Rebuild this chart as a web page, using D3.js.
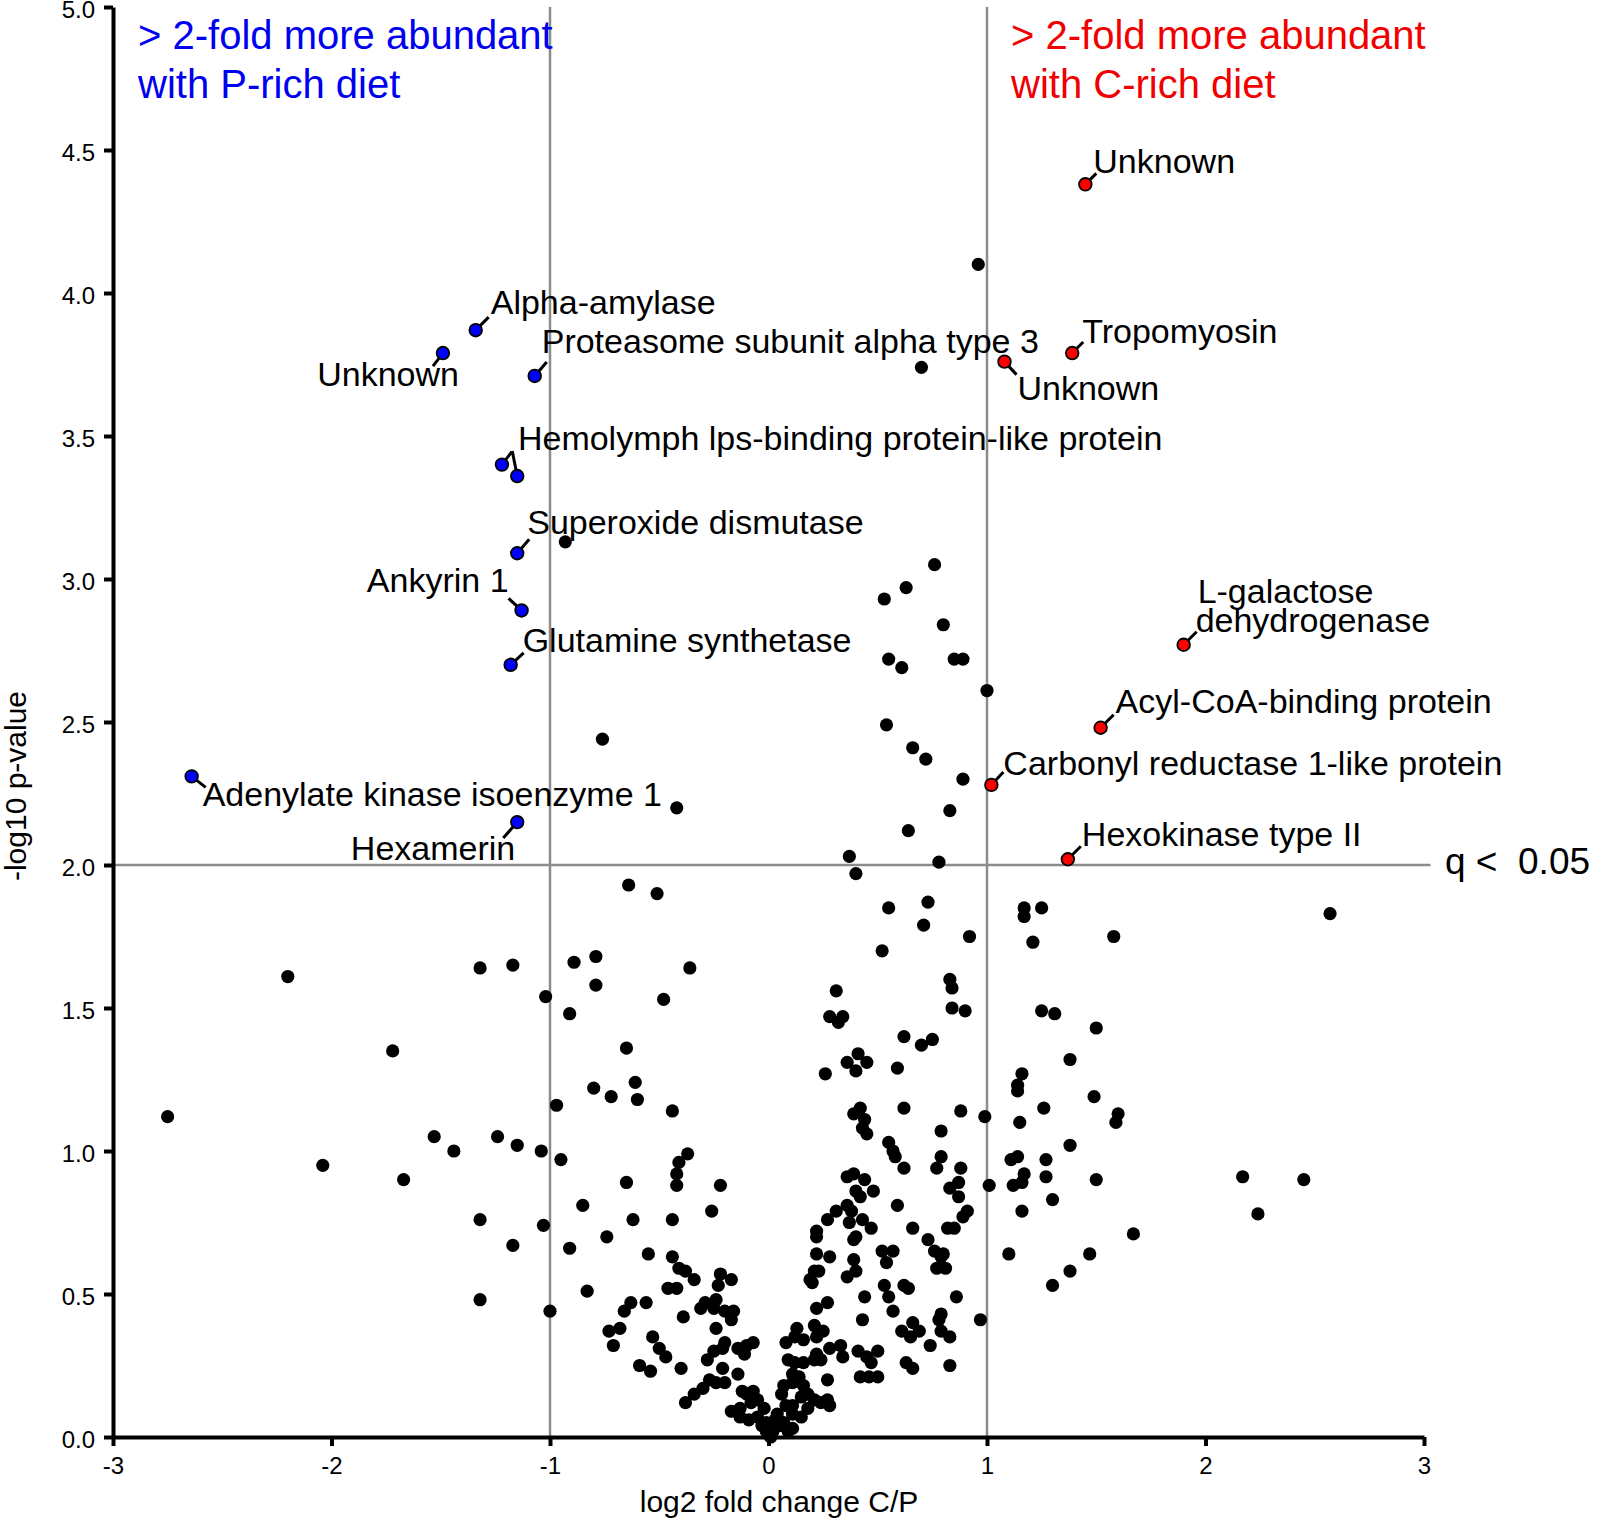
<!DOCTYPE html>
<html>
<head>
<meta charset="utf-8">
<script src="https://cdn.jsdelivr.net/npm/d3@7"></script>
<style>
  body { margin: 0; background: #fff; }
  svg { display: block; font-family: "Liberation Sans", Arial, sans-serif; }
</style>
</head>
<body>
<svg id="chart"></svg>
<script>
// axis ticks
const xTicks = [-3, -2, -1, 0, 1, 2, 3];
const yTicks = [0, 0.5, 1, 1.5, 2, 2.5, 3, 3.5, 4, 4.5, 5];

// thresholds: 2-fold change and q < 0.05
const foldCut = [-1, 1];
const qCut = 2;

// proteins more abundant with P-rich diet (blue)
const pRichNames = ["Alpha-amylase", "Unknown", "Proteasome subunit alpha type 3",
  "Hemolymph lps-binding protein-like protein", "", "Superoxide dismutase",
  "Ankyrin 1", "Glutamine synthetase", "Adenylate kinase isoenzyme 1", "Hexamerin"];
const pRichFold = [-1.34, -1.49, -1.07, -1.22, -1.15, -1.15, -1.13, -1.18, -2.64, -1.15];
const pRichP = [3.87, 3.79, 3.71, 3.40, 3.36, 3.09, 2.89, 2.70, 2.31, 2.15];

// proteins more abundant with C-rich diet (red)
const cRichNames = ["Unknown", "Tropomyosin", "Unknown", "L-galactose|dehydrogenase",
  "Acyl-CoA-binding protein", "Carbonyl reductase 1-like protein", "Hexokinase type II"];
const cRichFold = [1.45, 1.39, 1.08, 1.90, 1.52, 1.02, 1.37];
const cRichP = [4.38, 3.79, 3.76, 2.77, 2.48, 2.28, 2.02];

// all other proteins: [log2 fold change, -log10 p]
const otherProteins = [
  [0.96,4.10],[0.70,3.74],[-0.93,3.13],[0.76,3.05],[0.63,2.97],[0.53,2.93],[0.80,2.84],
  [0.85,2.72],[0.89,2.72],[0.55,2.72],[0.61,2.69],[1.00,2.61],[-0.76,2.44],[0.54,2.49],
  [0.66,2.41],[0.72,2.37],[0.89,2.30],[-0.42,2.20],[0.83,2.19],[0.64,2.12],[0.37,2.03],
  [0.78,2.01],[0.40,1.97],[-0.64,1.93],[-0.51,1.90],
  [-2.20,1.61],[-1.32,1.64],[-1.17,1.65],[-0.89,1.66],[-0.79,1.68],[-0.79,1.58],[-1.02,1.54],
  [-0.91,1.48],[-1.72,1.35],[-0.80,1.22],[-0.97,1.16],[-2.75,1.12],[-1.53,1.05],[-1.24,1.05],
  [-1.15,1.02],[-1.44,1.00],[-1.04,1.00],[-0.95,0.97],[-2.04,0.95],[-1.67,0.90],[-0.85,0.81],
  [-1.32,0.76],[-1.03,0.74],[-1.17,0.67],[-0.91,0.66],[-1.32,0.48],[-1.00,0.44],[-0.83,0.51],
  [0.55,1.85],[0.73,1.87],[0.71,1.79],[0.92,1.75],[0.52,1.70],[1.17,1.85],[1.17,1.82],
  [1.25,1.85],[1.21,1.73],[-0.36,1.64],[-0.48,1.53],[0.31,1.56],[0.28,1.47],[0.34,1.47],
  [0.32,1.45],[0.83,1.60],[0.84,1.57],[0.84,1.50],[0.90,1.49],[1.25,1.49],[1.31,1.48],
  [1.50,1.43],[0.62,1.40],[0.70,1.37],[0.75,1.39],[-0.65,1.36],[1.38,1.32],[0.41,1.34],
  [0.36,1.31],[0.45,1.31],[0.40,1.28],[0.26,1.27],[0.59,1.29],[1.16,1.27],[1.14,1.23],
  [1.14,1.21],[-0.61,1.24],[-0.72,1.19],[-0.60,1.18],[-0.44,1.14],[1.49,1.19],[0.42,1.15],
  [0.39,1.13],[0.44,1.11],[0.43,1.08],[0.45,1.06],[0.62,1.15],[0.88,1.14],[0.99,1.12],
  [1.26,1.15],[1.15,1.10],[0.79,1.07],[0.55,1.03],[0.57,1.00],[0.58,0.98],[0.62,0.94],
  [0.79,0.98],[0.77,0.94],[0.88,0.94],[1.38,1.02],[1.11,0.97],[1.14,0.98],[1.27,0.97],
  [1.27,0.91],[1.17,0.92],[1.16,0.89],[1.12,0.88],[1.01,0.88],[1.50,0.90],[1.30,0.83],
  [1.16,0.79],[-0.37,0.99],[-0.41,0.96],[-0.42,0.92],[-0.42,0.88],[-0.65,0.89],[-0.22,0.88],
  [-0.26,0.79],[-0.62,0.76],[-0.44,0.76],[-0.74,0.70],[0.39,0.92],[0.36,0.91],[0.44,0.90],
  [0.48,0.86],[0.40,0.86],[0.42,0.84],[0.87,0.89],[0.83,0.87],[0.87,0.84],[0.59,0.81],
  [0.36,0.81],[0.31,0.79],[0.38,0.79],[0.27,0.76],[0.37,0.75],[0.43,0.76],[0.47,0.73],
  [0.91,0.79],[0.89,0.77],[0.66,0.73],[0.82,0.73],[0.85,0.73],[0.22,0.72],[0.22,0.70],
  [0.40,0.70],[0.39,0.69],[0.73,0.69],
  [2.57,1.83],[1.58,1.75],[1.60,1.13],[1.59,1.10],[2.17,0.91],[2.45,0.90],[2.24,0.78],[1.67,0.71],
  [-0.55,0.64],[-0.44,0.63],[-0.41,0.59],[-0.38,0.58],[-0.34,0.55],[-0.46,0.52],[-0.42,0.52],
  [-0.56,0.47],[-0.63,0.47],[-0.66,0.44],[-0.68,0.38],[-0.73,0.37],[-0.71,0.32],[-0.53,0.35],
  [-0.50,0.31],[-0.47,0.28],[-0.59,0.25],[-0.54,0.23],[-0.40,0.24],[-0.39,0.42],[-0.22,0.57],
  [-0.17,0.55],[-0.23,0.53],[-0.24,0.48],[-0.29,0.47],[-0.31,0.45],[-0.25,0.45],[-0.20,0.44],
  [-0.16,0.44],[-0.17,0.41],[-0.24,0.38],[-0.20,0.33],[-0.25,0.30],[-0.28,0.27],[-0.21,0.31],
  [-0.14,0.31],[-0.10,0.32],[-0.07,0.33],[-0.11,0.29],[-0.21,0.24],[-0.14,0.22],[-0.27,0.20],
  [-0.24,0.19],[-0.20,0.19],[-0.30,0.17],[-0.34,0.15],[-0.38,0.12],[-0.12,0.16],[-0.07,0.16],
  [-0.10,0.15],[-0.05,0.13],[-0.08,0.12],[-0.13,0.10],[-0.17,0.09],[-0.13,0.07],[-0.09,0.06],
  [-0.05,0.07],[-0.02,0.10],[-0.01,0.05],[0.01,0.03],[0.07,0.18],[0.11,0.19],[0.16,0.18],
  [0.18,0.15],[0.15,0.14],[0.21,0.13],[0.24,0.12],[0.28,0.11],[0.27,0.13],[0.18,0.10],
  [0.11,0.11],[0.06,0.15],[0.08,0.11],[0.11,0.08],[0.07,0.05],[0.15,0.07],[0.11,0.03],
  [0.04,0.08],[0.05,0.04],[0.09,0.27],[0.12,0.26],[0.16,0.26],[0.11,0.22],[0.14,0.21],
  [0.08,0.33],[0.12,0.35],[0.13,0.38],[0.16,0.34],[0.21,0.39],[0.23,0.37],[0.25,0.37],
  [0.22,0.35],[0.22,0.45],[0.27,0.47],[0.22,0.29],[0.24,0.27],[0.28,0.31],[0.33,0.32],
  [0.34,0.28],[0.21,0.27],[0.27,0.20],[0.21,0.58],[0.23,0.58],[0.19,0.55],[0.20,0.54],
  [0.22,0.64],[0.28,0.63],[0.39,0.62],[0.36,0.56],[0.40,0.58],[0.44,0.49],[0.43,0.41],
  [0.41,0.30],[0.45,0.28],[0.47,0.26],[0.42,0.21],[0.46,0.21],[0.50,0.21],[0.50,0.30],
  [0.52,0.65],[0.54,0.61],[0.57,0.65],[0.53,0.53],[0.55,0.49],[0.57,0.44],[0.62,0.53],
  [0.64,0.52],[0.61,0.37],[0.66,0.40],[0.65,0.35],[0.69,0.37],[0.63,0.26],[0.66,0.24],
  [0.76,0.65],[0.79,0.63],[0.80,0.64],[0.77,0.59],[0.81,0.59],[0.86,0.49],[0.79,0.43],
  [0.78,0.41],[0.79,0.37],[0.83,0.35],[0.74,0.32],[0.83,0.25],[0.97,0.41],[1.10,0.64],
  [1.47,0.64],[1.38,0.58],[1.30,0.53],[-0.01,0.02],[0.02,0.02],[0.01,0.00],[0.00,0.01],
  [-0.03,0.04],[0.03,0.06],[0.09,0.02]
];

// label placement, pixel offsets from each highlighted point
// l = leader end, t = text anchor point, a = text-anchor
const pRichLayout = [
  {l:[13,-13], t:[15,-16], a:"start"},
  {l:[-10,13], t:[16,33], a:"end"},
  {l:[12,-14], t:[7,-23], a:"start"},
  {l:[10,-13], t:[16,-15], a:"start"},
  {l:[-5,-25], t:null},
  {l:[12,-14], t:[10,-19], a:"start"},
  {l:[-13,-12], t:[-13,-18], a:"end"},
  {l:[13,-12], t:[12,-13], a:"start"},
  {l:[14,11], t:[11,30], a:"start"},
  {l:[-14,16], t:[-2,38], a:"end"}
];
const cRichLayout = [
  {l:[11,-11], t:[8,-11], a:"start"},
  {l:[11,-11], t:[10,-10], a:"start"},
  {l:[12,13], t:[13,38], a:"start"},
  {l:[13,-13], t:[14,-42], a:"start"},
  {l:[13,-13], t:[15,-15], a:"start"},
  {l:[12,-13], t:[12,-10], a:"start"},
  {l:[13,-13], t:[14,-13], a:"start"}
];

const width = 1598, height = 1524;
const blue = "#0000f0", red = "#f00000", grey = "#8c8c8c";

const svg = d3.select("#chart")
  .attr("width", width)
  .attr("height", height);

const x = d3.scaleLinear().domain([-3, 3]).range([113, 1424]);
const y = d3.scaleLinear().domain([0, 5]).range([1437, 7]);

// threshold lines
svg.selectAll(".vline")
  .data(foldCut)
  .enter()
  .append("line")
  .attr("x1", d => x(d)).attr("x2", d => x(d))
  .attr("y1", y(5)).attr("y2", y(0))
  .attr("stroke", grey)
  .attr("stroke-width", 2.5);

svg.append("line")
  .attr("x1", x(-3)).attr("x2", x(3.03))
  .attr("y1", y(qCut)).attr("y2", y(qCut))
  .attr("stroke", grey)
  .attr("stroke-width", 2.5);

svg.append("text")
  .attr("x", 1445)
  .attr("y", y(qCut) + 9)
  .attr("font-size", 37)
  .style("white-space", "pre")
  .text("q <  0.05");

// axes
const xAxis = svg.append("g")
  .attr("transform", `translate(0,${y(0)})`)
  .call(d3.axisBottom(x).tickValues(xTicks).tickFormat(d => String(d))
    .tickSize(9).tickSizeOuter(0).tickPadding(11));

const yAxis = svg.append("g")
  .attr("transform", `translate(${x(-3)},0)`)
  .call(d3.axisLeft(y).tickValues(yTicks).tickFormat(d3.format(".1f"))
    .tickSize(9).tickSizeOuter(0).tickPadding(9));

[xAxis, yAxis].forEach(g => {
  g.select(".domain").attr("stroke", "#000").attr("stroke-width", 4);
  g.selectAll(".tick line").attr("stroke", "#000").attr("stroke-width", 4);
  g.selectAll(".tick text")
    .attr("fill", "#000")
    .attr("font-size", 24)
    .attr("font-family", "Liberation Sans, Arial, sans-serif");
});
yAxis.selectAll(".tick text").attr("dy", "0.42em");

svg.append("text")
  .attr("x", 779)
  .attr("y", 1512)
  .attr("text-anchor", "middle")
  .attr("font-size", 30)
  .text("log2 fold change C/P");

svg.append("text")
  .attr("transform", "translate(26,786) rotate(-90)")
  .attr("text-anchor", "middle")
  .attr("font-size", 30)
  .text("-log10 p-value");

// header annotations
const headers = [
  {lines: ["> 2-fold more abundant", "with P-rich diet"], x: 138, color: blue},
  {lines: ["> 2-fold more abundant", "with C-rich diet"], x: 1011, color: red}
];
headers.forEach(h => {
  svg.append("text")
    .attr("font-size", 40)
    .attr("fill", h.color)
    .selectAll("tspan")
    .data(h.lines)
    .enter()
    .append("tspan")
    .attr("x", h.x)
    .attr("y", (d, i) => 49 + i * 49)
    .text(d => d);
});

// background proteins
svg.append("g")
  .selectAll("circle")
  .data(otherProteins)
  .enter()
  .append("circle")
  .attr("cx", d => x(d[0]))
  .attr("cy", d => y(d[1]))
  .attr("r", 6.6)
  .attr("fill", "#000");

// highlighted proteins with leader lines and labels
function drawGroup(names, fold, pv, layout, color) {
  const data = names.map((n, i) => ({name: n, fx: fold[i], py: pv[i], lay: layout[i]}));
  const g = svg.append("g");

  g.selectAll("line")
    .data(data)
    .enter()
    .append("line")
    .attr("x1", d => x(d.fx)).attr("y1", d => y(d.py))
    .attr("x2", d => x(d.fx) + d.lay.l[0]).attr("y2", d => y(d.py) + d.lay.l[1])
    .attr("stroke", "#000")
    .attr("stroke-width", 3);

  g.selectAll("circle")
    .data(data)
    .enter()
    .append("circle")
    .attr("cx", d => x(d.fx))
    .attr("cy", d => y(d.py))
    .attr("r", 6.3)
    .attr("fill", color)
    .attr("stroke", "#000")
    .attr("stroke-width", 1.8);

  g.selectAll("text")
    .data(data.filter(d => d.lay.t))
    .enter()
    .append("text")
    .attr("font-size", 34)
    .attr("text-anchor", d => d.lay.a)
    .each(function(d) {
      const parts = d.name.split("|");
      const tx = x(d.fx) + d.lay.t[0];
      const ty = y(d.py) + d.lay.t[1];
      d3.select(this).selectAll("tspan")
        .data(parts)
        .enter()
        .append("tspan")
        .attr("x", (p, i) => tx + (i === 0 ? 0 : -2))
        .attr("y", (p, i) => ty + i * 29)
        .text(p => p);
    });
}

drawGroup(pRichNames, pRichFold, pRichP, pRichLayout, "#0000ff");
drawGroup(cRichNames, cRichFold, cRichP, cRichLayout, "#ff0000");
</script>
</body>
</html>
